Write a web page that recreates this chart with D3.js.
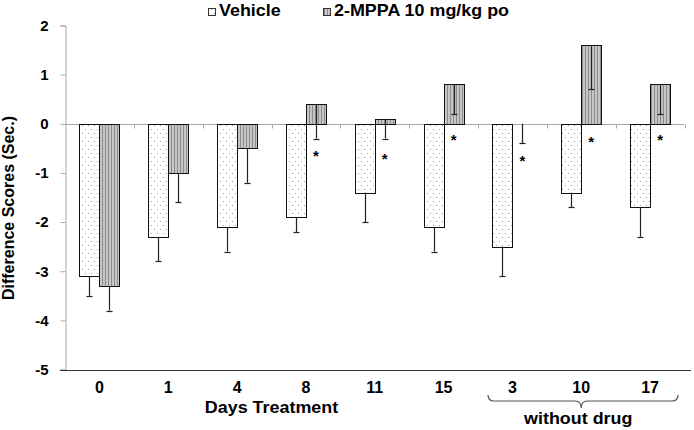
<!DOCTYPE html>
<html><head><meta charset="utf-8">
<script src="https://cdn.jsdelivr.net/npm/d3@7"></script>
<style>body{margin:0;background:#fff}svg{display:block;font-family:"Liberation Sans",Arial,sans-serif;font-weight:bold}</style>
</head><body><svg id="c" width="694" height="430"></svg>
<script>
const categories = ["0","1","4","8","11","15","3","10","17"];
const vehicle    = [-3.1,-2.3,-2.1,-1.9,-1.4,-2.1,-2.5,-1.4,-1.7];
const vehicleErr = [0.4,0.5,0.5,0.3,0.6,0.5,0.6,0.3,0.6];
const drug       = [-3.3,-1.0,-0.5,0.4,0.1,0.8,0,1.6,0.8];
const drugErr    = [0.5,0.6,0.7,0.7,0.4,0.6,0.4,0.9,0.6];
const starY      = [null,null,null,-0.6,-0.65,-0.26,-0.69,-0.3,-0.26];
const yTicks     = [-5,-4,-3,-2,-1,0,1,2];
const seriesNames = ["Vehicle","2-MPPA 10 mg/kg po"];
const groupLabels = ["Days Treatment","without drug"];
const yTitle = "Difference Scores (Sec.)";

const svg = d3.select("#c");
const defs = svg.append("defs");
// dotted pattern for vehicle
const pv = defs.append("pattern").attr("id","pv").attr("patternUnits","userSpaceOnUse")
  .attr("width",6).attr("height",8);
pv.append("rect").attr("width",6).attr("height",8).attr("fill","#fff");
pv.append("rect").attr("x",1).attr("y",1).attr("width",1).attr("height",1).attr("fill","#9a9a9a");
pv.append("rect").attr("x",4).attr("y",5).attr("width",1).attr("height",1).attr("fill","#9a9a9a");
// vertical stripes for drug
const pd = defs.append("pattern").attr("id","pd").attr("patternUnits","userSpaceOnUse")
  .attr("width",3).attr("height",4);
pd.append("rect").attr("width",3).attr("height",4).attr("fill","#c6c6c6");
pd.append("rect").attr("x",0).attr("width",1).attr("height",4).attr("fill","#8c8c8c");

const x = d3.scaleBand().domain(categories).range([65,684.5]).paddingInner(0).paddingOuter(0);
const bw = x.bandwidth();
const x1 = d3.scaleBand().domain(["v","d"]).range([(bw-40)/2,(bw+40)/2]);
const y = d3.scaleLinear().domain([-5,2]).range([369.5,25.5]);

// y axis
const ya = svg.append("g").attr("transform","translate(65.5,0)")
  .call(d3.axisLeft(y).tickValues(yTicks).tickSize(5).tickPadding(12).tickFormat(d=>String(d)));
ya.select(".domain").attr("stroke","#a8a8a8");
ya.selectAll(".tick line").attr("stroke","#a8a8a8");
ya.selectAll(".tick text").attr("font-size",15).attr("font-family","Liberation Sans, Arial, sans-serif")
  .attr("font-weight","bold").attr("fill","#000");

// zero line with boundary ticks
const zy = Math.round(y(0))+0.5;
svg.append("line").attr("x1",65).attr("x2",x.range()[1]).attr("y1",zy).attr("y2",zy)
  .attr("stroke","#a8a8a8");
categories.slice(1).concat(["__end"]).forEach((c,i)=>{
  const bx = (c==="__end"? x.range()[1] : x(c));
  svg.append("line").attr("x1",Math.round(bx)+0.5).attr("x2",Math.round(bx)+0.5)
    .attr("y1",zy).attr("y2",zy+4).attr("stroke","#a8a8a8");
});

// bottom axis line
const by = Math.round(y(-5))+0.5;
svg.append("line").attr("x1",60).attr("x2",691).attr("y1",by).attr("y2",by).attr("stroke","#333").attr("stroke-width",1.2);

// bars
function bar(i, val, key, fill){
  const x0 = Math.round(x(categories[i]) + x1(key)) + 0.5;
  const y0 = y(Math.max(0,val)), y1 = y(Math.min(0,val));
  if (Math.abs(y1-y0) < 0.5) return;
  svg.append("rect").attr("x",x0).attr("y",Math.round(y0)+0.5)
    .attr("width",Math.round(x1.bandwidth())).attr("height",Math.round(y1)-Math.round(y0))
    .attr("fill",fill).attr("stroke","#111").attr("stroke-width",1);
}
function err(i, val, e, key, color){
  const cx = Math.round(x(categories[i]) + x1(key) + x1.bandwidth()/2)+0.5;
  const ye = y(val - e);
  svg.append("line").attr("x1",cx).attr("x2",cx).attr("y1",y(val)).attr("y2",ye)
    .attr("stroke",color).attr("stroke-width",1.2);
  svg.append("line").attr("x1",cx-3).attr("x2",cx+3).attr("y1",Math.round(ye)+0.5).attr("y2",Math.round(ye)+0.5)
    .attr("stroke",color).attr("stroke-width",1.2);
}
categories.forEach((c,i)=>{
  bar(i, vehicle[i], "v", "url(#pv)");
  bar(i, drug[i], "d", "url(#pd)");
});
categories.forEach((c,i)=>{
  err(i, vehicle[i], vehicleErr[i], "v", "#222");
  err(i, drug[i], drugErr[i], "d", "#222");
  if (starY[i] !== null) {
    svg.append("text").attr("x", x(c)+x1("d")+x1.bandwidth()/2).attr("y", y(starY[i])+8)
      .attr("text-anchor","middle").attr("font-size",15).attr("fill","#000").text("*");
  }
});

// x labels
categories.forEach(c=>{
  svg.append("text").attr("x", x(c)+bw/2).attr("y",393).attr("text-anchor","middle")
    .attr("font-size",16).attr("fill","#000").text(c);
});

// group labels
svg.append("text").attr("transform",`translate(${x(categories[3])},413) scale(1.12,1)`)
  .attr("text-anchor","middle").attr("font-size",16).attr("fill","#000").text(groupLabels[0]);
const gL = x(categories[6])+10, gR = x.range()[1]-6.5, gM = x(categories[7])+bw/2;
svg.append("path").attr("d",
  `M${gL},395 Q${gL},401 ${gL+6},401 L${gM-6},401 Q${gM},401 ${gM},408 Q${gM},401 ${gM+6},401 L${gR-6},401 Q${gR},401 ${gR},395`)
  .attr("fill","none").attr("stroke","#555").attr("stroke-width",1.2);
svg.append("text").attr("transform",`translate(${gM-3},424) scale(1.12,1)`)
  .attr("text-anchor","middle").attr("font-size",16).attr("fill","#000").text(groupLabels[1]);

// y title
svg.append("text").attr("transform","translate(14,208) rotate(-90)").attr("text-anchor","middle")
  .attr("font-size",16).attr("fill","#000").text(yTitle);

// legend
const legX = [208, 323], fills = ["url(#pv)","url(#pd)"];
seriesNames.forEach((n,i)=>{
  svg.append("rect").attr("x",legX[i]+0.5).attr("y",8.5).attr("width",7).attr("height",7)
    .attr("fill",fills[i]).attr("stroke","#333");
  svg.append("text").attr("transform",`translate(${legX[i]+11},15.5) scale(1.12,1)`)
    .attr("font-size",16).attr("fill","#000").text(n);
});
</script></body></html>
